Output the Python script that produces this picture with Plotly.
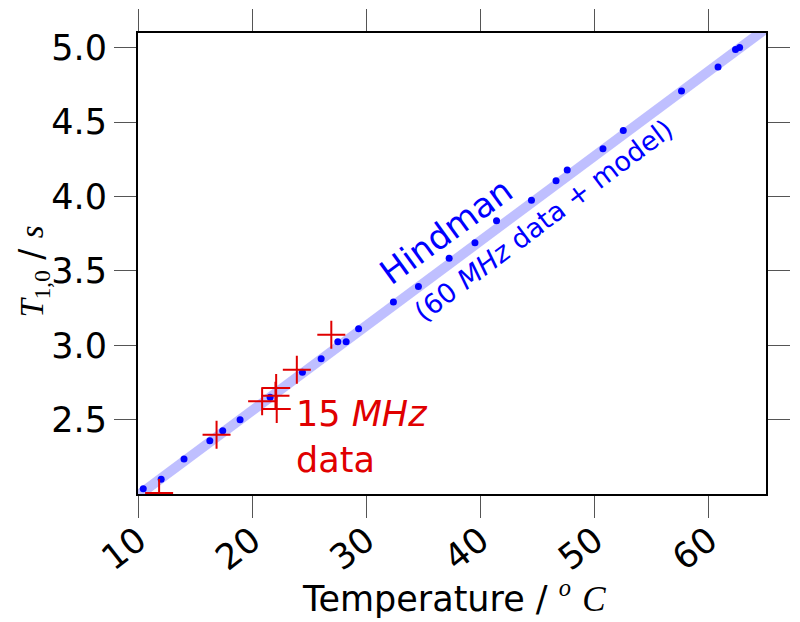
import plotly.graph_objects as go

# Hindman 60 MHz data (temperature in C, T1 in s)
hind_t = [10.46, 12.03, 14.03, 16.29, 17.42, 18.94, 21.57, 24.40, 26.04, 27.50,
          28.23, 29.32, 32.37, 34.56, 37.25, 39.51, 41.40, 44.46, 46.61, 47.59,
          50.72, 52.50, 57.60, 60.80, 62.33, 62.69]
hind_T1 = [2.035, 2.100, 2.235, 2.358, 2.426, 2.500, 2.651, 2.819, 2.909, 3.024,
           3.024, 3.112, 3.291, 3.395, 3.586, 3.689, 3.838, 3.975, 4.107, 4.179,
           4.321, 4.445, 4.710, 4.872, 4.989, 5.002]

# 15 MHz data
mhz15_t = [11.85, 16.88, 20.87, 22.10, 22.04, 22.15, 23.91, 26.93]
mhz15_T1 = [2.007, 2.399, 2.623, 2.713, 2.661, 2.572, 2.836, 3.071]

# model line
model_t = [10, 65]
model_T1 = [1.99, 5.13]

x_ticks = [10, 20, 30, 40, 50, 60]
y_ticks = [2.5, 3.0, 3.5, 4.0, 4.5, 5.0]

RED = "#e00000"
BLUE = "#0000ff"
SERIF = "font-family:Liberation Serif"

fig = go.Figure()
fig.add_trace(go.Scatter(x=model_t, y=model_T1, mode="lines",
                         line=dict(color="rgba(0,0,255,0.25)", width=10), showlegend=False))
fig.add_trace(go.Scatter(x=hind_t, y=hind_T1, mode="markers",
                         marker=dict(color=BLUE, size=7), showlegend=False))
fig.add_trace(go.Scatter(x=mhz15_t, y=mhz15_T1, mode="markers",
                         marker=dict(symbol="cross-thin", size=20, line=dict(color=RED, width=2)),
                         showlegend=False))

fig.add_annotation(x=37.0, y=3.77, text="Hindman", textangle=-36, showarrow=False,
                   font=dict(size=34, color=BLUE), xanchor="center", yanchor="middle")
fig.add_annotation(x=45.5, y=3.84, text="(60 <i>MHz</i> data + model)", textangle=-37,
                   showarrow=False, font=dict(size=27, color=BLUE),
                   xanchor="center", yanchor="middle")
fig.add_annotation(x=23.7, y=2.38, text="15 <i>MHz</i><br>data", align="left",
                   showarrow=False, font=dict(size=35, color=RED),
                   xanchor="left", yanchor="middle")

# axis titles placed as paper annotations
fig.add_annotation(xref="paper", yref="paper", x=0.503, y=-0.222,
                   text=f"Temperature / <sup><span style='{SERIF}'><i>o</i></span></sup> "
                        f"<span style='{SERIF}'><i>C</i></span>",
                   showarrow=False, font=dict(size=35, color="black"),
                   xanchor="center", yanchor="middle")
fig.add_annotation(xref="paper", yref="paper", x=-0.166, y=0.482, textangle=-90,
                   text=f"<span style='{SERIF}'><i>T</i><sub>1,0</sub></span> / "
                        f"<span style='{SERIF}'><i>s</i></span>",
                   showarrow=False, font=dict(size=33, color="black"),
                   xanchor="center", yanchor="middle")

axis_common = dict(showline=True, linecolor="black", linewidth=2, mirror="ticks",
                   ticks="outside", ticklen=22, tickwidth=1, tickcolor="#555",
                   showgrid=False, zeroline=False, automargin=False,
                   tickfont=dict(size=35, color="black"))

fig.update_xaxes(range=[10, 65], tickvals=x_ticks, tickangle=-38, ticklabelstandoff=-12,
                 **axis_common)
fig.update_yaxes(range=[2.0, 5.1], tickvals=y_ticks, tickformat=".1f", **axis_common)

fig.update_layout(
    width=792, height=614,
    margin=dict(l=130, r=34, t=25, b=128),
    plot_bgcolor="white", paper_bgcolor="white",
    font=dict(family="DejaVu Sans", color="black"),
)

fig.write_html("out.html")
